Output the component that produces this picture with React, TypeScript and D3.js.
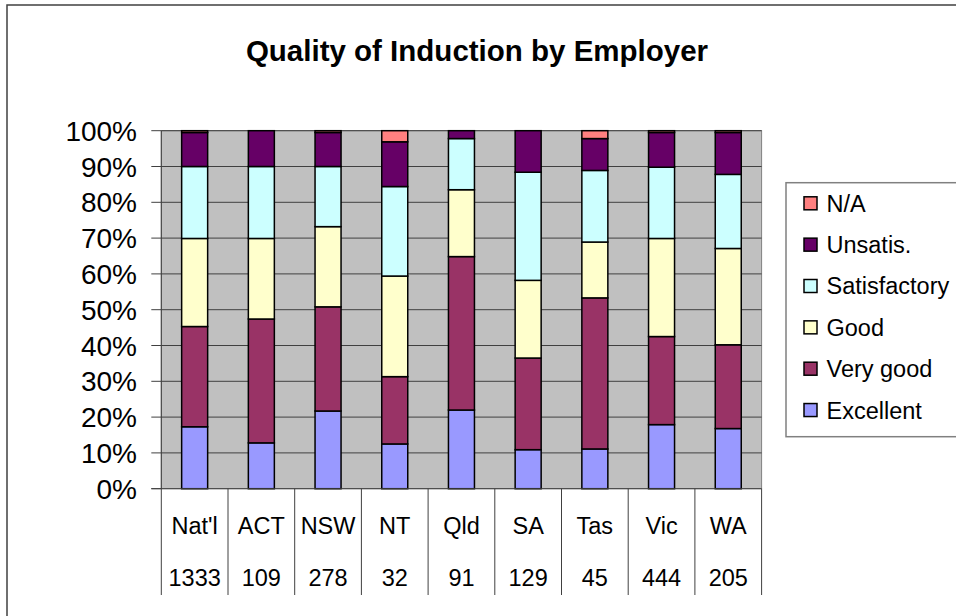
import { useEffect, useRef } from "react"
import * as d3 from "d3"

const W = 956
const H = 616

const categories = ["Nat'l", "ACT", "NSW", "NT", "Qld", "SA", "Tas", "Vic", "WA"]
const counts = ["1333", "109", "278", "32", "91", "129", "45", "444", "205"]

// percent of respondents per rating
const excellent = [17.3, 12.8, 21.7, 12.5, 22.0, 10.9, 11.1, 17.9, 16.8]
const veryGood = [28.0, 34.6, 29.1, 18.8, 42.9, 25.6, 42.2, 24.6, 23.4]
const good = [24.6, 22.5, 22.4, 28.1, 18.7, 21.7, 15.6, 27.4, 26.9]
const satisfactory = [20.1, 20.1, 16.8, 25.0, 14.3, 30.2, 20.0, 19.9, 20.7]
const unsatis = [9.5, 10.0, 9.5, 12.5, 2.2, 11.6, 8.9, 9.7, 11.7]
const na = [0.5, 0, 0.5, 3.1, 0, 0, 2.2, 0.5, 0.5]

const seriesNames = ["Excellent", "Very good", "Good", "Satisfactory", "Unsatis.", "N/A"]
const seriesValues = [excellent, veryGood, good, satisfactory, unsatis, na]
const seriesColors = ["#9999ff", "#993366", "#ffffcc", "#ccffff", "#660066", "#ff8080"]
const yTicks = [0, 0.1, 0.2, 0.3, 0.4, 0.5, 0.6, 0.7, 0.8, 0.9, 1]

const FONT = "'Liberation Sans', Arial, sans-serif"

export default function App() {
  const svgRef = useRef<SVGSVGElement>(null)

  useEffect(() => {
    const svg = d3.select(svgRef.current)
    svg.selectAll("*").remove()

    // chart frame
    svg.append("rect")
      .attr("x", 7).attr("y", 5)
      .attr("width", W + 20).attr("height", H + 20)
      .attr("fill", "#fff").attr("stroke", "#404040").attr("stroke-width", 1.5)

    svg.append("text")
      .attr("x", 477).attr("y", 61)
      .attr("text-anchor", "middle")
      .attr("font-family", FONT).attr("font-weight", "bold").attr("font-size", 29.5)
      .text("Quality of Induction by Employer")

    const left = 161.3, right = 761.6, top = 130.7, bottom = 488.7

    const x = d3.scaleBand<string>().domain(categories).range([left, right]).paddingInner(0).paddingOuter(0)
    const y = d3.scaleLinear().domain([0, 1]).range([bottom, top])
    const barW = 26

    const rows = categories.map((c, i) => {
      const total = d3.sum(seriesValues, (s) => s[i])
      const r: Record<string, number | string> = { cat: c }
      seriesNames.forEach((n, k) => { r[n] = seriesValues[k][i] / total })
      return r
    })
    const stacked = d3.stack<Record<string, number | string>>().keys(seriesNames)(rows)

    // plot area
    svg.append("rect")
      .attr("x", left).attr("y", top)
      .attr("width", right - left).attr("height", bottom - top)
      .attr("fill", "#c0c0c0").attr("stroke", "#808080").attr("stroke-width", 1)

    svg.append("g").selectAll("line")
      .data(yTicks.slice(1))
      .join("line")
      .attr("x1", left).attr("x2", right)
      .attr("y1", (d) => y(d)).attr("y2", (d) => y(d))
      .attr("stroke", "#404040").attr("stroke-width", 1)

    // y axis
    const yAxis = svg.append("g")
    yAxis.append("line")
      .attr("x1", left).attr("x2", left).attr("y1", top).attr("y2", bottom)
      .attr("stroke", "#404040")
    yAxis.selectAll("line.tick")
      .data(yTicks)
      .join("line")
      .attr("class", "tick")
      .attr("x1", left - 10).attr("x2", left)
      .attr("y1", (d) => y(d)).attr("y2", (d) => y(d))
      .attr("stroke", "#404040")
    yAxis.selectAll("text")
      .data(yTicks)
      .join("text")
      .attr("x", 137).attr("y", (d) => y(d))
      .attr("dy", "0.36em")
      .attr("text-anchor", "end")
      .attr("font-family", FONT).attr("font-size", 28)
      .text((d) => d3.format(".0%")(d))

    // bars
    svg.append("g").selectAll("g")
      .data(stacked)
      .join("g")
      .attr("fill", (_, k) => seriesColors[k])
      .selectAll("rect")
      .data((s) => s.filter((d) => d[1] - d[0] > 0))
      .join("rect")
      .attr("x", (d) => (x(d.data.cat as string) ?? 0) + x.bandwidth() / 2 - barW / 2)
      .attr("width", barW)
      .attr("y", (d) => y(d[1]))
      .attr("height", (d) => y(d[0]) - y(d[1]))
      .attr("stroke", "#000").attr("stroke-width", 1.5)

    // x axis line
    svg.append("line")
      .attr("x1", left - 10).attr("x2", right).attr("y1", bottom).attr("y2", bottom)
      .attr("stroke", "#404040")

    // category table under the axis
    const tbl = svg.append("g")
    tbl.selectAll("line")
      .data([...categories.map((c) => x(c) ?? 0), right])
      .join("line")
      .attr("x1", (d) => d).attr("x2", (d) => d)
      .attr("y1", bottom).attr("y2", 595)
      .attr("stroke", "#404040")
    tbl.selectAll("text.cat")
      .data(categories)
      .join("text")
      .attr("class", "cat")
      .attr("x", (d) => (x(d) ?? 0) + x.bandwidth() / 2)
      .attr("y", 533.5)
      .attr("text-anchor", "middle")
      .attr("font-family", FONT).attr("font-size", 23.5)
      .text((d) => d)
    tbl.selectAll("text.n")
      .data(counts)
      .join("text")
      .attr("class", "n")
      .attr("x", (_, i) => (x(categories[i]) ?? 0) + x.bandwidth() / 2)
      .attr("y", 585.5)
      .attr("text-anchor", "middle")
      .attr("font-family", FONT).attr("font-size", 23.5)
      .text((d) => d)

    // legend, top entry is N/A
    const lg = svg.append("g")
    lg.append("rect")
      .attr("x", 786).attr("y", 182.7)
      .attr("width", 200).attr("height", 436.7 - 182.7)
      .attr("fill", "#fff").attr("stroke", "#808080").attr("stroke-width", 1.5)
    const order = d3.range(seriesNames.length).reverse()
    const item = lg.selectAll("g")
      .data(order)
      .join("g")
      .attr("transform", (_, i) => `translate(0,${203.3 + i * 41.35})`)
    item.append("rect")
      .attr("x", 804).attr("y", -6.5)
      .attr("width", 13).attr("height", 13)
      .attr("fill", (k) => seriesColors[k])
      .attr("stroke", "#000").attr("stroke-width", 1.5)
    item.append("text")
      .attr("x", 826.5).attr("dy", "0.36em")
      .attr("font-family", FONT).attr("font-size", 23.5)
      .text((k) => seriesNames[k])
  }, [])

  return (
    <svg ref={svgRef} width={W} height={H}
      style={{ position: "fixed", left: 0, top: 0, background: "#fff" }} />
  )
}
